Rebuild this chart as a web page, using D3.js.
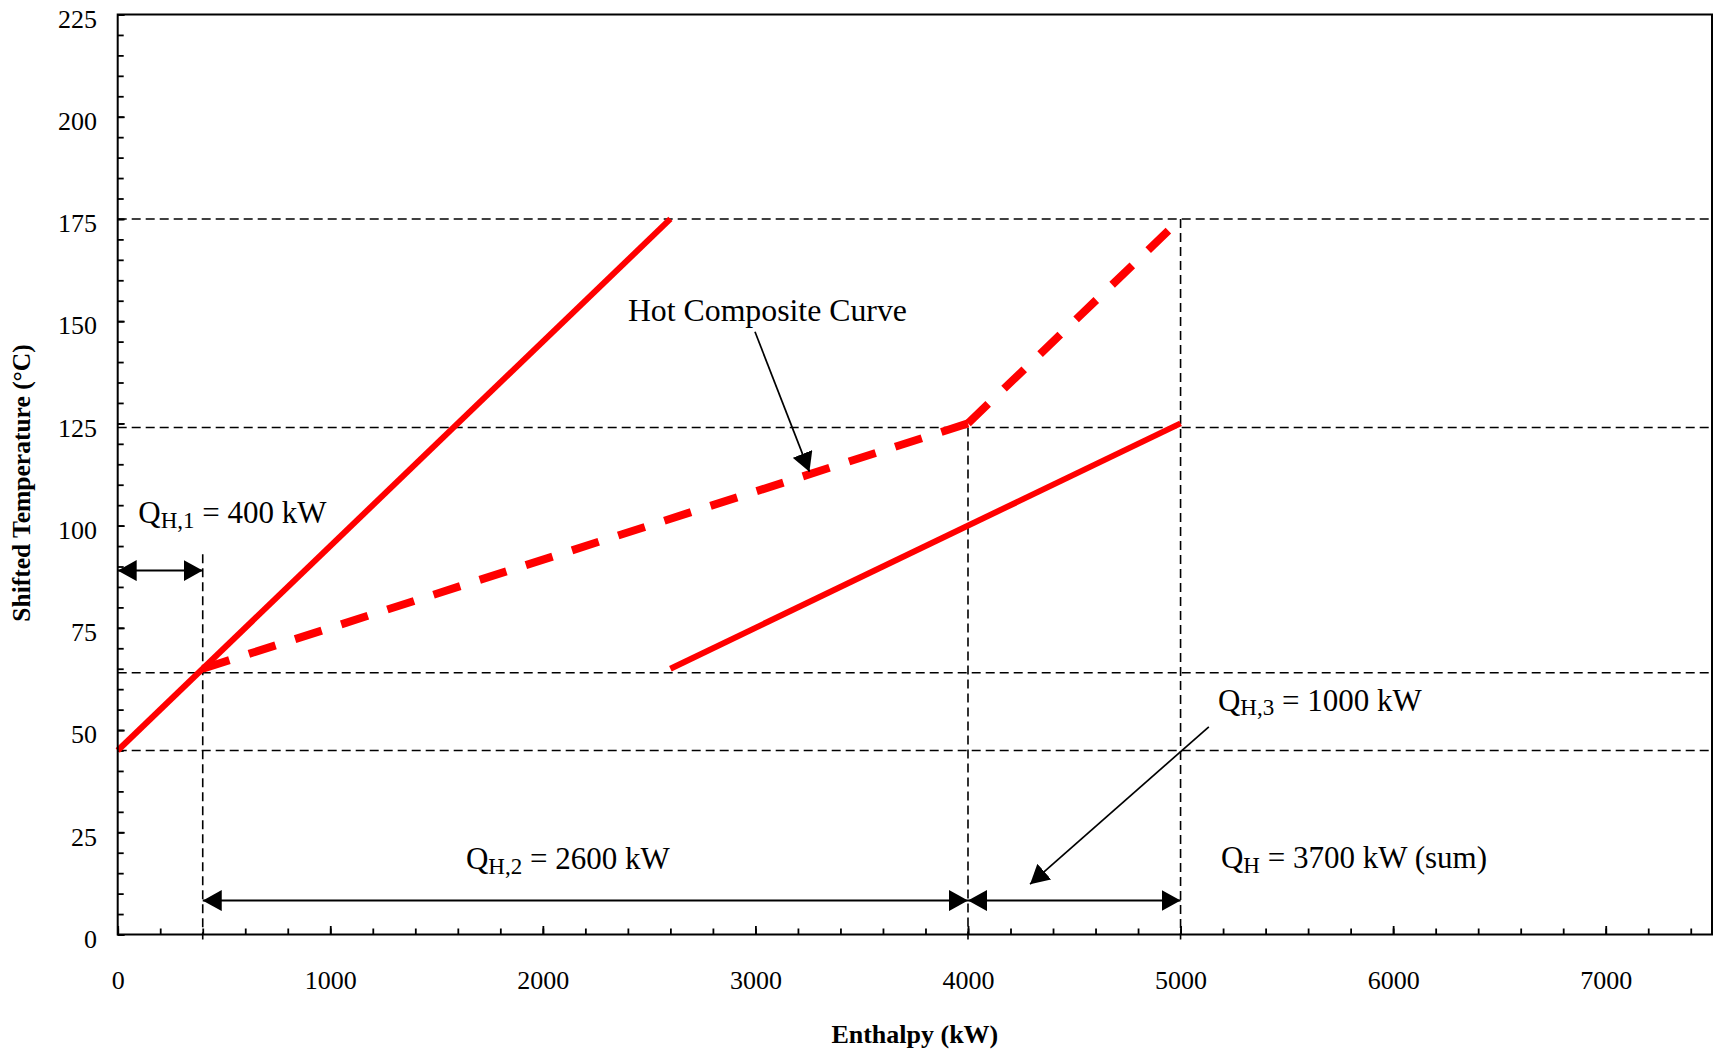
<!DOCTYPE html>
<html>
<head>
<meta charset="utf-8">
<script src="https://cdn.jsdelivr.net/npm/d3@7"></script>
<style>
  html, body { margin: 0; padding: 0; background: #fff; }
  svg { display: block; font-family: "Liberation Serif", "Times New Roman", serif; }
  text { white-space: pre; }
</style>
</head>
<body>
<svg id="chart" width="1720" height="1052"></svg>
<script>
// Stream lines: enthalpy (kW) vs shifted temperature (°C)
const streamAEnthalpy = [0, 2600];
const streamATemp = [45, 175];
const streamBEnthalpy = [2600, 5000];
const streamBTemp = [65, 125];
const hotCompositeEnthalpy = [400, 4000, 5000];
const hotCompositeTemp = [65, 125, 175];

// Axis ticks
const xTickValues = [0, 1000, 2000, 3000, 4000, 5000, 6000, 7000];
const yTickValues = [0, 25, 50, 75, 100, 125, 150, 175, 200, 225];

// Dashed guide lines
const guideTemps = [45, 64, 124, 175];
const guideEnthalpies = [400, 4000, 5000];
const guideTopTemps = [93, 124, 175];

// Heat-duty spans (kW) and the temperature level they are drawn at
const dutyFrom = [0, 400, 4000];
const dutyTo = [400, 4000, 5000];
const dutyLevel = [89, 8.3, 8.3];

// Duty labels
const dutySub = ["H,1", "H,2", "H,3", "H"];
const dutyRest = [" = 400 kW", " = 2600 kW", " = 1000 kW", " = 3700 kW (sum)"];

const svg = d3.select("#chart");
const W = 1720, H = 1052;
svg.append("rect").attr("width", W).attr("height", H).attr("fill", "#fff");

const plot = { left: 117.7, right: 1712, top: 14.5, bottom: 934.5 };
const x = d3.scaleLinear().domain([0, 7500]).range([plot.left, plot.right]);
const y = d3.scaleLinear().domain([0, 225]).range([plot.bottom, plot.top]);

// arrowhead marker
const defs = svg.append("defs");
defs.append("marker")
  .attr("id", "head")
  .attr("viewBox", "0 0 19 21")
  .attr("refX", 19).attr("refY", 10.5)
  .attr("markerWidth", 19).attr("markerHeight", 21)
  .attr("markerUnits", "userSpaceOnUse")
  .attr("orient", "auto-start-reverse")
  .append("path").attr("d", "M0,0L19,10.5L0,21Z").attr("fill", "#000");

// ---- axes ----
const xMinor = d3.axisBottom(x).tickValues(d3.range(0, 7501, 200))
  .tickSizeInner(-6).tickSizeOuter(0).tickFormat("");
const xMajor = d3.axisBottom(x).tickValues(xTickValues)
  .tickSizeInner(-8.5).tickSizeOuter(0).tickPadding(36).tickFormat(d3.format("d"));
const yMinor = d3.axisLeft(y).tickValues(d3.range(0, 226, 5))
  .tickSizeInner(-6).tickSizeOuter(0).tickFormat("");
const yMajor = d3.axisLeft(y).tickValues(yTickValues)
  .tickSizeInner(-7).tickSizeOuter(0).tickPadding(20.7).tickFormat(d3.format("d"));

function styleAxis(g) {
  g.select(".domain").remove();
  g.selectAll(".tick line").attr("stroke", "#000").attr("stroke-width", 1.8);
  g.selectAll(".tick text").attr("font-family", "Liberation Serif, Times New Roman, serif")
    .attr("font-size", 26).attr("fill", "#000");
}
svg.append("g").attr("transform", `translate(0,${plot.bottom})`).call(xMinor).call(styleAxis);
svg.append("g").attr("transform", `translate(0,${plot.bottom})`).call(xMajor).call(styleAxis);
svg.append("g").attr("transform", `translate(${plot.left},0)`).call(yMinor).call(styleAxis);
const yAx = svg.append("g").attr("transform", `translate(${plot.left},0)`).call(yMajor).call(styleAxis);
yAx.selectAll(".tick text").attr("y", 4.5);

// ---- dashed guides ----
const guides = svg.append("g").attr("fill", "none").attr("stroke", "#000")
  .attr("stroke-width", 1.6).attr("stroke-dasharray", "9 5");
guides.selectAll("line.h").data(guideTemps).join("line").attr("class", "h")
  .attr("x1", x(0)).attr("x2", x(7500))
  .attr("y1", d => y(d)).attr("y2", d => y(d));
guides.selectAll("line.v").data(guideEnthalpies).join("line").attr("class", "v")
  .attr("x1", d => x(d)).attr("x2", d => x(d))
  .attr("y1", (d, i) => y(guideTopTemps[i])).attr("y2", y(0) + 5);

// ---- stream lines ----
const line = d3.line().x(d => x(d[0])).y(d => y(d[1]));
const red = "#ff0000";
svg.append("path").datum(d3.zip(streamAEnthalpy, streamATemp))
  .attr("d", line).attr("fill", "none").attr("stroke", red).attr("stroke-width", 6);
svg.append("path").datum(d3.zip(streamBEnthalpy, streamBTemp))
  .attr("d", line).attr("fill", "none").attr("stroke", red).attr("stroke-width", 6);

// hot composite: each segment dashed separately
const hotPts = d3.zip(hotCompositeEnthalpy, hotCompositeTemp);
for (let i = 0; i < hotPts.length - 1; i++) {
  const seg = [hotPts[i], hotPts[i + 1]];
  const p = svg.append("path").datum(seg).attr("d", line)
    .attr("fill", "none").attr("stroke", red).attr("stroke-width", 8)
    .attr("stroke-linecap", "butt");
  const len = p.node().getTotalLength();
  if (i === 0) {
    // fit the pattern so the segment begins and ends with a dash
    const dash = 28;
    const n = Math.max(1, Math.round((len - dash) / 50));
    const period = (len - dash) / n;
    p.attr("stroke-dasharray", `${dash} ${period - dash}`);
  } else {
    p.attr("stroke-dasharray", "28 22");
  }
}

// ---- heat-duty arrows ----
svg.append("g").selectAll("line").data(dutyFrom).join("line")
  .attr("x1", d => x(d)).attr("x2", (d, i) => x(dutyTo[i]))
  .attr("y1", (d, i) => y(dutyLevel[i])).attr("y2", (d, i) => y(dutyLevel[i]))
  .attr("stroke", "#000").attr("stroke-width", 2)
  .attr("marker-start", "url(#head)").attr("marker-end", "url(#head)");

// leader arrows
function leader(x0, y0, x1, y1) {
  svg.append("line")
    .attr("x1", x(x0)).attr("y1", y(y0)).attr("x2", x(x1)).attr("y2", y(y1))
    .attr("stroke", "#000").attr("stroke-width", 1.7)
    .attr("marker-end", "url(#head)");
}
leader(2998, 147.4, 3254, 113.2);
leader(5133, 50.8, 4292, 12.3);

// ---- annotation text ----
function qLabel(px, py, sub, rest) {
  const t = svg.append("text").attr("x", px).attr("y", py)
    .attr("font-size", 31).attr("fill", "#000");
  t.append("tspan").text("Q");
  t.append("tspan").attr("font-size", 23).attr("dy", 4.5).text(sub);
  t.append("tspan").attr("dy", -4.5).text(rest);
}
const labelAnchors = [[97, 100.6], [1638, 16.0], [5176, 54.7], [5190, 16.2]];
dutySub.forEach((s, i) => qLabel(x(labelAnchors[i][0]), y(labelAnchors[i][1]), s, dutyRest[i]));

svg.append("text").attr("x", x(2400)).attr("y", y(150))
  .attr("font-size", 31.8).attr("fill", "#000").text("Hot Composite Curve");

// ---- frame ----
svg.append("rect")
  .attr("x", plot.left).attr("y", plot.top)
  .attr("width", plot.right - plot.left).attr("height", plot.bottom - plot.top)
  .attr("fill", "none").attr("stroke", "#000").attr("stroke-width", 2);

// ---- axis titles ----
svg.append("text").attr("x", (plot.left + plot.right) / 2).attr("y", 1043)
  .attr("text-anchor", "middle").attr("font-size", 26).attr("font-weight", "bold")
  .attr("fill", "#000").text("Enthalpy (kW)");
svg.append("text")
  .attr("transform", `translate(30,483) rotate(-90)`)
  .attr("text-anchor", "middle").attr("font-size", 25.5).attr("font-weight", "bold")
  .attr("fill", "#000").text("Shifted Temperature (°C)");
</script>
</body>
</html>
